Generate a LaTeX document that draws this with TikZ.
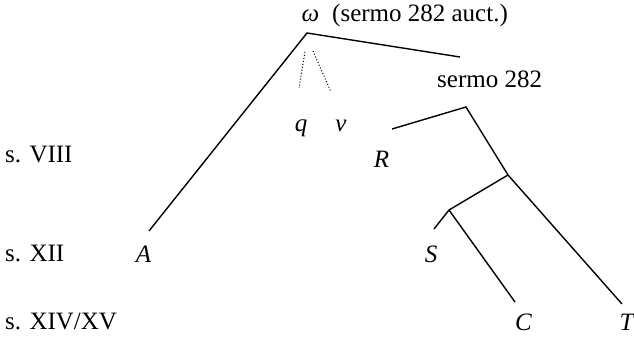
\documentclass[tikz,border=0pt]{standalone}
\usepackage{fontspec}
\setmainfont{Liberation Serif}
\newfontfamily\tnr{Liberation Serif}
\begin{document}
\begin{tikzpicture}[x=1pt,y=-1pt,
  lbl/.style={inner sep=0pt, anchor=base west, font=\tnr\fontsize{25}{30}\selectfont},
  sig/.style={inner sep=0pt, anchor=base, font=\tnr\fontsize{25}{30}\selectfont\itshape},
  stemma/.style={line width=1.4pt},
  conj/.style={line width=1pt, dash pattern=on 1pt off 2pt}]
\useasboundingbox (0,0) rectangle (634,337);
% texts
\node[sig] (omega) at (310.5,22) {ω};
\node[lbl] (auct) at (332,22) {(sermo 282 auct.)};
\node[lbl] (sermo) at (437,88) {sermo 282};
\node[sig] (q) at (301,131) {q};
\node[sig] (v) at (341,131) {v};
\node[sig] (R) at (381.5,167) {R};
\node[sig] (A) at (143.5,262) {A};
\node[sig] (S) at (431,262) {S};
\node[sig] (C) at (523.5,330) {C};
\node[sig] (T) at (626.5,330) {T};
\node[lbl] (s8) at (5,162) {s. VIII};
\node[lbl] (s12) at (5,261) {s. XII};
\node[lbl] (s14) at (5,329) {s. XIV/XV};
% branching points and line ends
\coordinate (O) at (307,33);
\coordinate (Aend) at (149,231);
\coordinate (Oright) at (460,57);
\coordinate (P) at (466,107);
\coordinate (Rend) at (392,129);
\coordinate (J1) at (508,175);
\coordinate (Tend) at (622,304);
\coordinate (J2) at (449,210);
\coordinate (Send) at (434,229);
\coordinate (Cend) at (515,302);
\coordinate (qtop) at (305,52);
\coordinate (qend) at (299,88);
\coordinate (vtop) at (313,51);
\coordinate (vend) at (331,92);
% connectors
\draw[stemma] (Aend) -- (O) -- (Oright);
\draw[stemma] (Rend) -- (P) -- (J1) -- (Tend);
\draw[stemma] (J1) -- (J2) -- (Send);
\draw[stemma] (J2) -- (Cend);
\draw[conj] (qtop) -- (qend);
\draw[conj] (vtop) -- (vend);
\end{tikzpicture}
\end{document}
